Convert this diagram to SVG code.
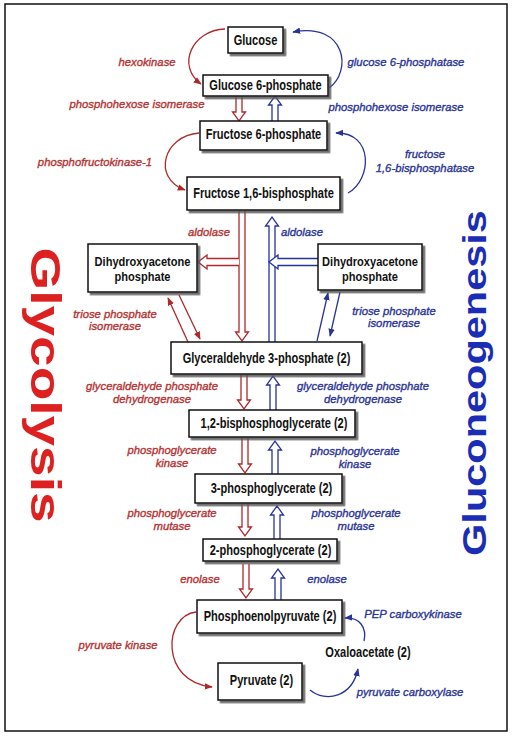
<svg xmlns="http://www.w3.org/2000/svg" width="515" height="736" viewBox="0 0 515 736">
<defs>
<filter id="ds" x="-10%" y="-10%" width="130%" height="140%">
<feDropShadow dx="2.5" dy="2.5" stdDeviation="0.7" flood-color="#555" flood-opacity="0.85"/>
</filter>
<marker id="mr" viewBox="0 0 10 10" refX="9" refY="5" markerWidth="8" markerHeight="8" markerUnits="userSpaceOnUse" orient="auto">
<path d="M0 1 L10 5 L0 9 z" fill="#b02828"/>
</marker>
<marker id="mb" viewBox="0 0 10 10" refX="9" refY="5" markerWidth="8" markerHeight="8" markerUnits="userSpaceOnUse" orient="auto">
<path d="M0 1 L10 5 L0 9 z" fill="#27339a"/>
</marker>
</defs>
<style>
.frame{fill:#fff;stroke:#111;stroke-width:1.5}
.box{fill:#fff;stroke:#111;stroke-width:1.5;filter:url(#ds)}
.bt{font-family:"Liberation Sans",Arial,sans-serif;font-weight:bold;font-size:14px;fill:#111;text-anchor:middle;transform-box:fill-box;transform-origin:center;transform:scaleX(0.79)}
.bt2{font-family:"Liberation Sans",Arial,sans-serif;font-weight:bold;font-size:12.5px;fill:#111;text-anchor:middle;transform-box:fill-box;transform-origin:center;transform:scaleX(0.885)}
.er{font-family:"Liberation Sans",Arial,sans-serif;font-style:italic;font-size:11.3px;fill:#b53232;stroke:#b53232;stroke-width:0.35;text-anchor:middle}
.eb{font-family:"Liberation Sans",Arial,sans-serif;font-style:italic;font-size:11.3px;fill:#2a3496;stroke:#2a3496;stroke-width:0.35;text-anchor:middle}
.hr{fill:#fff;stroke:#b02828;stroke-width:1.3}
.hb{fill:#fff;stroke:#27339a;stroke-width:1.3}
.cr{fill:none;stroke:#b02828;stroke-width:1.3;marker-end:url(#mr)}
.cb{fill:none;stroke:#27339a;stroke-width:1.3;marker-end:url(#mb)}
.big{font-family:"Liberation Sans",Arial,sans-serif;font-weight:bold;text-anchor:middle}
</style>
<rect class="frame" x="5" y="4" width="502" height="727"/>

<g id="title-glycolysis">
<text class="big" font-size="55" fill="#dd2020" transform="translate(31 385) rotate(90) scale(1 0.78)">Glycolysis</text>
</g>
<g id="title-gluconeogenesis">
<text class="big" font-size="41.5" fill="#1c2db5" transform="translate(486 383) rotate(-90) scale(1 0.78)">Gluconeogenesis</text>
</g>

<g id="connectors">
<path class="hr" d="M236 96 V112 H232.5 L239 121 L245.5 112 H242 V96"/>
<path class="hb" d="M272 121 V105 H268.5 L275 96 L281.5 105 H278 V121"/>
<path class="hr" d="M239 211 V332 H235.5 L242 341 L248.5 332 H245 V211"/>
<path class="hb" d="M269 342 V226 H265.5 L272 217 L278.5 226 H275 V342"/>
<path class="hr" d="M239 258.5 H207 V255 L198 262 L207 269 V265.5 H239"/>
<path class="hb" d="M318 258.5 H278 V255 L269 262 L278 269 V265.5 H318"/>
<path class="hr" d="M241 375 V400 H237.5 L244 409 L250.5 400 H247 V375"/>
<path class="hb" d="M270 410 V385 H266.5 L273 376 L279.5 385 H276 V410"/>
<path class="hr" d="M242 438 V464 H238.5 L245 473 L251.5 464 H248 V438"/>
<path class="hb" d="M272 474 V450 H268.5 L275 441 L281.5 450 H278 V474"/>
<path class="hr" d="M242 504 V527 H238.5 L245 536 L251.5 527 H248 V504"/>
<path class="hb" d="M274 539 V515 H270.5 L277 506 L283.5 515 H280 V539"/>
<path class="hr" d="M243 564 V589 H239.5 L246 598 L252.5 589 H249 V564"/>
<path class="hb" d="M275 600 V578 H271.5 L278 569 L284.5 578 H281 V600"/>
<path class="cr" d="M225 29 C192 30 176 66 201 84"/>
<path class="cb" d="M329 88 C352 72 347 22 293 32"/>
<path class="cr" d="M199 133 C163 136 152 178 185 190"/>
<path class="cb" d="M348 193 C372 180 374 132 336 133"/>
<path class="cr" d="M188 342 L168 298"/>
<path class="cr" d="M179 295 L200 339"/>
<path class="cb" d="M317 341 L328 293"/>
<path class="cb" d="M340 292 L330 336"/>
<path class="cr" d="M196 612 C163 616 160 682 212 687"/>
<path class="cb" d="M364 641 C367 628 360 617 345 618"/>
<path class="cb" d="M310 690 C326 703 352 697 358 669"/>
</g>

<g id="enzymes">
<text class="er" x="147" y="66">hexokinase</text>
<text class="eb" x="406" y="66">glucose 6-phosphatase</text>
<text class="er" x="137" y="108">phosphohexose isomerase</text>
<text class="eb" x="396" y="111">phosphohexose isomerase</text>
<text class="er" x="95" y="166">phosphofructokinase-1</text>
<text class="eb" x="425" y="158">fructose</text>
<text class="eb" x="425" y="172">1,6-bisphosphatase</text>
<text class="er" x="209" y="236">aldolase</text>
<text class="eb" x="302" y="236">aldolase</text>
<text class="er" x="115" y="318">triose phosphate</text>
<text class="er" x="115" y="330">isomerase</text>
<text class="eb" x="394" y="315">triose phosphate</text>
<text class="eb" x="394" y="327">isomerase</text>
<text class="er" x="152" y="390">glyceraldehyde phosphate</text>
<text class="er" x="152" y="403">dehydrogenase</text>
<text class="eb" x="363" y="390">glyceraldehyde phosphate</text>
<text class="eb" x="363" y="403">dehydrogenase</text>
<text class="er" x="172" y="454">phosphoglycerate</text>
<text class="er" x="172" y="467">kinase</text>
<text class="eb" x="355" y="455">phosphoglycerate</text>
<text class="eb" x="355" y="468">kinase</text>
<text class="er" x="172" y="517">phosphoglycerate</text>
<text class="er" x="172" y="530">mutase</text>
<text class="eb" x="356" y="517">phosphoglycerate</text>
<text class="eb" x="356" y="530">mutase</text>
<text class="er" x="200" y="583">enolase</text>
<text class="eb" x="327" y="583">enolase</text>
<text class="er" x="118" y="649">pyruvate kinase</text>
<text class="eb" x="413" y="618">PEP carboxykinase</text>
<text class="eb" x="410" y="696">pyruvate carboxylase</text>
</g>

<g id="glucose"><rect class="box" x="228" y="27" width="55" height="26"/><text class="bt" x="255.5" y="45">Glucose</text></g>
<g id="glucose-6-phosphate"><rect class="box" x="203" y="75" width="125" height="21"/><text class="bt" x="265.5" y="90">Glucose 6-phosphate</text></g>
<g id="fructose-6-phosphate"><rect class="box" x="200" y="121" width="127" height="29"/><text class="bt" x="263.5" y="139.5">Fructose 6-phosphate</text></g>
<g id="fructose-1-6-bisphosphate"><rect class="box" x="187" y="177" width="153" height="33"/><text class="bt" x="263.5" y="198.5">Fructose 1,6-bisphosphate</text></g>
<g id="dhap-left"><rect class="box" x="88" y="244" width="109" height="48"/><text class="bt2" x="142.5" y="266.5">Dihydroxyacetone</text><text class="bt2" x="142.5" y="281">phosphate</text></g>
<g id="dhap-right"><rect class="box" x="318" y="244" width="104" height="46"/><text class="bt2" x="370" y="266.5">Dihydroxyacetone</text><text class="bt2" x="370" y="281">phosphate</text></g>
<g id="glyceraldehyde-3-phosphate"><rect class="box" x="171" y="342" width="191" height="32"/><text class="bt" x="266.5" y="363">Glyceraldehyde 3-phosphate (2)</text></g>
<g id="bisphosphoglycerate"><rect class="box" x="189" y="410" width="166" height="27"/><text class="bt" x="274" y="428.5">1,2-bisphosphoglycerate (2)</text></g>
<g id="phosphoglycerate-3"><rect class="box" x="195" y="474" width="147" height="29"/><text class="bt" x="271.5" y="493.5">3-phosphoglycerate (2)</text></g>
<g id="phosphoglycerate-2"><rect class="box" x="203" y="539" width="134" height="22"/><text class="bt" x="270.5" y="555">2-phosphoglycerate (2)</text></g>
<g id="phosphoenolpyruvate"><rect class="box" x="197" y="600" width="145" height="33"/><text class="bt" x="270" y="621.5">Phosphoenolpyruvate (2)</text></g>
<g id="pyruvate"><rect class="box" x="218" y="663" width="84" height="37"/><text class="bt" x="261.5" y="685">Pyruvate (2)</text></g>
<g id="oxaloacetate"><text class="bt" x="368" y="657">Oxaloacetate (2)</text></g>
</svg>
